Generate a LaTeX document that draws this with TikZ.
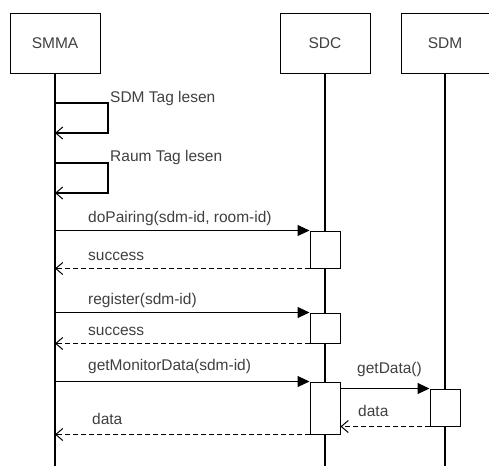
\documentclass[tikz,border=0pt]{standalone}
\usepackage{fontspec}
\setmainfont{Liberation Sans}
\usetikzlibrary{positioning,arrows.meta}

\begin{document}
\begin{tikzpicture}[
    x=1pt, y=-1pt,
    every node/.style={font=\fontsize{15.5}{18}\selectfont, text=black!75},
    headbox/.style={rectangle, draw, line width=1pt, minimum width=90pt, minimum height=60pt, inner sep=0pt},
    actbox/.style={rectangle, draw, line width=1pt, fill=white, minimum width=30pt, inner sep=0pt},
    lifeline/.style={line width=2pt},
    msglabel/.style={anchor=base west, inner sep=0pt},
    call/.style={line width=1pt, -{Triangle[length=12pt,width=11pt]}},
    reply/.style={line width=1pt, dashed, dash pattern=on 5pt off 3pt, -{Straight Barb[length=7pt,width=12pt]}},
    self/.style={line width=2pt, -{Straight Barb[length=7pt,width=12pt,line width=1pt]}}
]
\useasboundingbox (0,0) rectangle (489,466);

% participants
\node[headbox] (smma) at (55,43) {SMMA};
\node[headbox] (sdc) at (325,43) {SDC};
\node[headbox, minimum width=88pt] (sdm) at (445,43) {SDM};

% lifelines
\coordinate (smmaend) at (55,466);
\coordinate (sdcend) at (325,466);
\coordinate (sdmend) at (445,466);
\draw[lifeline] (smma.south) -- (smmaend);
\draw[lifeline] (sdc.south) -- (sdcend);
\draw[lifeline] (sdm.south) -- (sdmend);

% activations
\node[actbox, minimum height=37pt] (pairact) at (325,249.5) {};
\node[actbox, minimum height=30pt] (regact) at (325,328) {};
\node[actbox, minimum height=52pt] (monact) at (325,408) {};
\node[actbox, minimum height=37pt] (dataact) at (445,407.5) {};

% self messages
\coordinate (tag1a) at (55,103);
\coordinate (tag1b) at (55,133);
\coordinate (tag2a) at (55,163);
\coordinate (tag2b) at (55,193);
\draw[self] (tag1a) -- (108,103) -- (108,133) -- (tag1b);
\node[msglabel] (tag1) at (110,102) {SDM Tag lesen};
\draw[self] (tag2a) -- (108,163) -- (108,193) -- (tag2b);
\node[msglabel] (tag2) at (110,161) {Raum Tag lesen};

% doPairing
\draw[call] (smma |- pairact.north west) -- (pairact.north west);
\node[msglabel] (pairing) at (88,222) {doPairing(sdm-id, room-id)};
\draw[reply] (pairact.south west) -- (smma |- pairact.south west);
\node[msglabel] (success1) at (88,260) {success};

% register
\draw[call] (smma |- regact.north west) -- (regact.north west);
\node[msglabel] (register) at (88,304) {register(sdm-id)};
\draw[reply] (regact.south west) -- (smma |- regact.south west);
\node[msglabel] (success2) at (88,335) {success};

% getMonitorData
\draw[call] (smma |- monact.north west) -- (monact.north west);
\node[msglabel] (monitor) at (88,370) {getMonitorData(sdm-id)};
\draw[call] (monact.east |- dataact.north west) -- (dataact.north west);
\node[msglabel] (getdata) at (357,373) {getData()};
\draw[reply] (dataact.south west) -- (monact.east |- dataact.south west);
\node[msglabel] (data1) at (358,416) {data};
\draw[reply] (monact.south west) -- (smma |- monact.south west);
\node[msglabel] (data2) at (92,424) {data};
\end{tikzpicture}
\end{document}
